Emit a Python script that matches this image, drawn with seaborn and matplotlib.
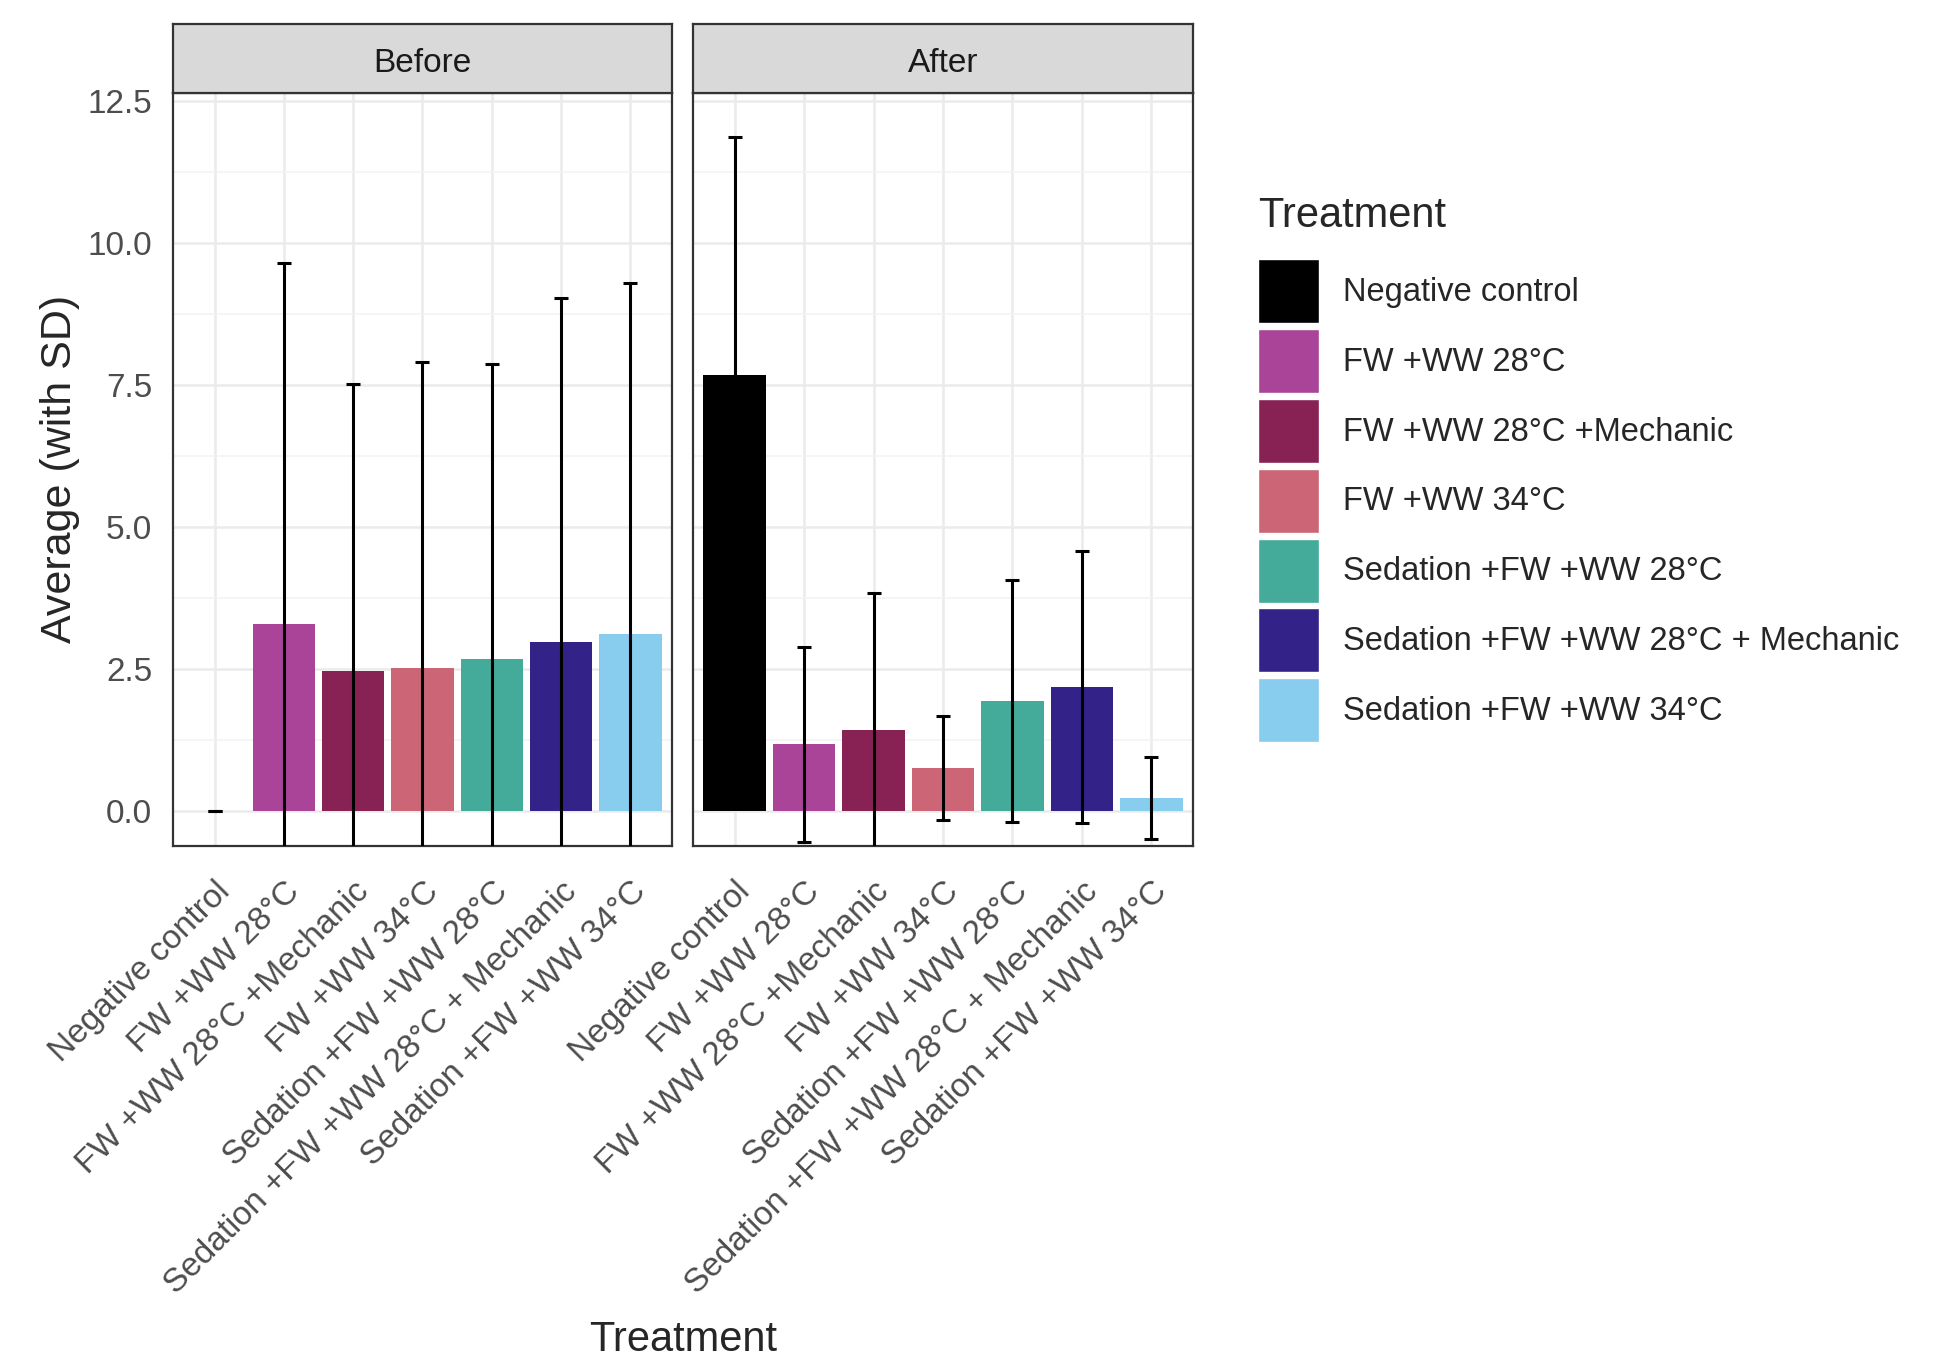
import matplotlib
matplotlib.use("Agg")
import matplotlib.pyplot as plt
import matplotlib.patches as mpatches
from matplotlib.ticker import MultipleLocator, FormatStrFormatter
import seaborn as sns
import pandas as pd

# Data
treatments = ["Negative control", "FW +WW 28°C", "FW +WW 28°C +Mechanic", "FW +WW 34°C",
              "Sedation +FW +WW 28°C", "Sedation +FW +WW 28°C + Mechanic", "Sedation +FW +WW 34°C"]
colors = ["#000000", "#AA4499", "#882255", "#CC6677", "#44AA99", "#332288", "#88CCEE"]
before_mean = [0.0, 3.29, 2.47, 2.52, 2.69, 2.98, 3.13]
before_sd = [0.0, 6.36, 5.05, 5.39, 5.18, 6.06, 6.17]
after_mean = [7.68, 1.18, 1.44, 0.76, 1.94, 2.19, 0.24]
after_sd = [4.19, 1.72, 2.41, 0.91, 2.13, 2.40, 0.72]
phases = ["Before", "After"]

df = pd.DataFrame({
    "Phase": ["Before"] * 7 + ["After"] * 7,
    "Treatment": treatments * 2,
    "Mean": before_mean + after_mean,
    "SD": before_sd + after_sd,
})
palette = dict(zip(treatments, colors))

sns.set_style("white")
plt.rcParams["font.family"] = ["Liberation Sans", "DejaVu Sans"]

W, H = 1936, 1361
fig = plt.figure(figsize=(W / 100, H / 100), dpi=100)

panel_x = [(173, 499), (693, 500)]
top, bottom = 92.6, 846
axes = []
for i, phase in enumerate(phases):
    x0, w = panel_x[i]
    ax = fig.add_axes([x0 / W, 1 - bottom / H, w / W, (bottom - top) / H],
                      sharey=axes[0] if axes else None)
    axes.append(ax)
    sub = df[df["Phase"] == phase]
    sns.barplot(data=sub, x="Treatment", y="Mean", hue="Treatment", order=treatments,
                hue_order=treatments, palette=palette, saturation=1, width=0.9,
                linewidth=0, errorbar=None, legend=False, ax=ax, zorder=2)
    ax.errorbar(range(len(treatments)), sub["Mean"], yerr=sub["SD"], fmt="none",
                ecolor="black", elinewidth=2.2, capsize=5, capthick=2.2, zorder=3)

    ax.set_xlim(-0.6, 6.6)
    ax.set_ylim(-0.61, 12.65)
    ax.yaxis.set_major_locator(MultipleLocator(2.5))
    ax.yaxis.set_minor_locator(MultipleLocator(1.25))
    ax.yaxis.set_major_formatter(FormatStrFormatter("%.1f"))
    ax.grid(True, which="major", color="#EBEBEB", linewidth=1.8, zorder=0)
    ax.grid(True, which="minor", axis="y", color="#F2F2F2", linewidth=1.1, zorder=0)
    ax.set_axisbelow(True)
    for s in ax.spines.values():
        s.set_color("#333333")
        s.set_linewidth(1.6)
    ax.tick_params(axis="both", which="major", length=6.5, width=1.4, color="#333333",
                   labelsize=24, labelcolor="#4D4D4D", pad=8.5)
    ax.tick_params(axis="x", which="major", pad=15)
    ax.tick_params(axis="y", which="minor", length=0)
    ax.set_xticks(range(len(treatments)))
    ax.set_xticklabels(treatments, rotation=45, ha="right", va="top",
                       rotation_mode="anchor")
    ax.set_xlabel("")
    ax.set_ylabel("")
    if i == 1:
        ax.tick_params(axis="y", which="both", left=False, labelleft=False)

    # facet strip
    sax = fig.add_axes([x0 / W, 1 - top / H, w / W, (top - 23.5) / H])
    sax.set_facecolor("#D9D9D9")
    sax.set_xticks([])
    sax.set_yticks([])
    for s in sax.spines.values():
        s.set_color("#333333")
        s.set_linewidth(1.6)
    sax.text(0.5, 0.42, phase, ha="center", va="center", fontsize=24, color="#1A1A1A",
             transform=sax.transAxes)

fig.text(59.6 / W, 1 - 469 / H, "Average (with SD)", rotation=90, ha="center",
         va="center", fontsize=31)
fig.text(683 / W, 1 - 1340 / H, "Treatment", ha="center", va="center", fontsize=30)

# legend
fig.text(1258 / W, 1 - 216 / H, "Treatment", ha="left", va="center", fontsize=30)
handles = [mpatches.Patch(facecolor=c, edgecolor="white", linewidth=1.0) for c in colors]
fig.legend(handles, treatments, loc="upper left", bbox_to_anchor=(1258 / W, 1 - 259 / H),
           frameon=False, fontsize=23.5, handlelength=1.86, handleheight=2.64,
           labelspacing=0.18, handletextpad=0.75, borderpad=0, borderaxespad=0)

fig.savefig("out.png", dpi=100)
